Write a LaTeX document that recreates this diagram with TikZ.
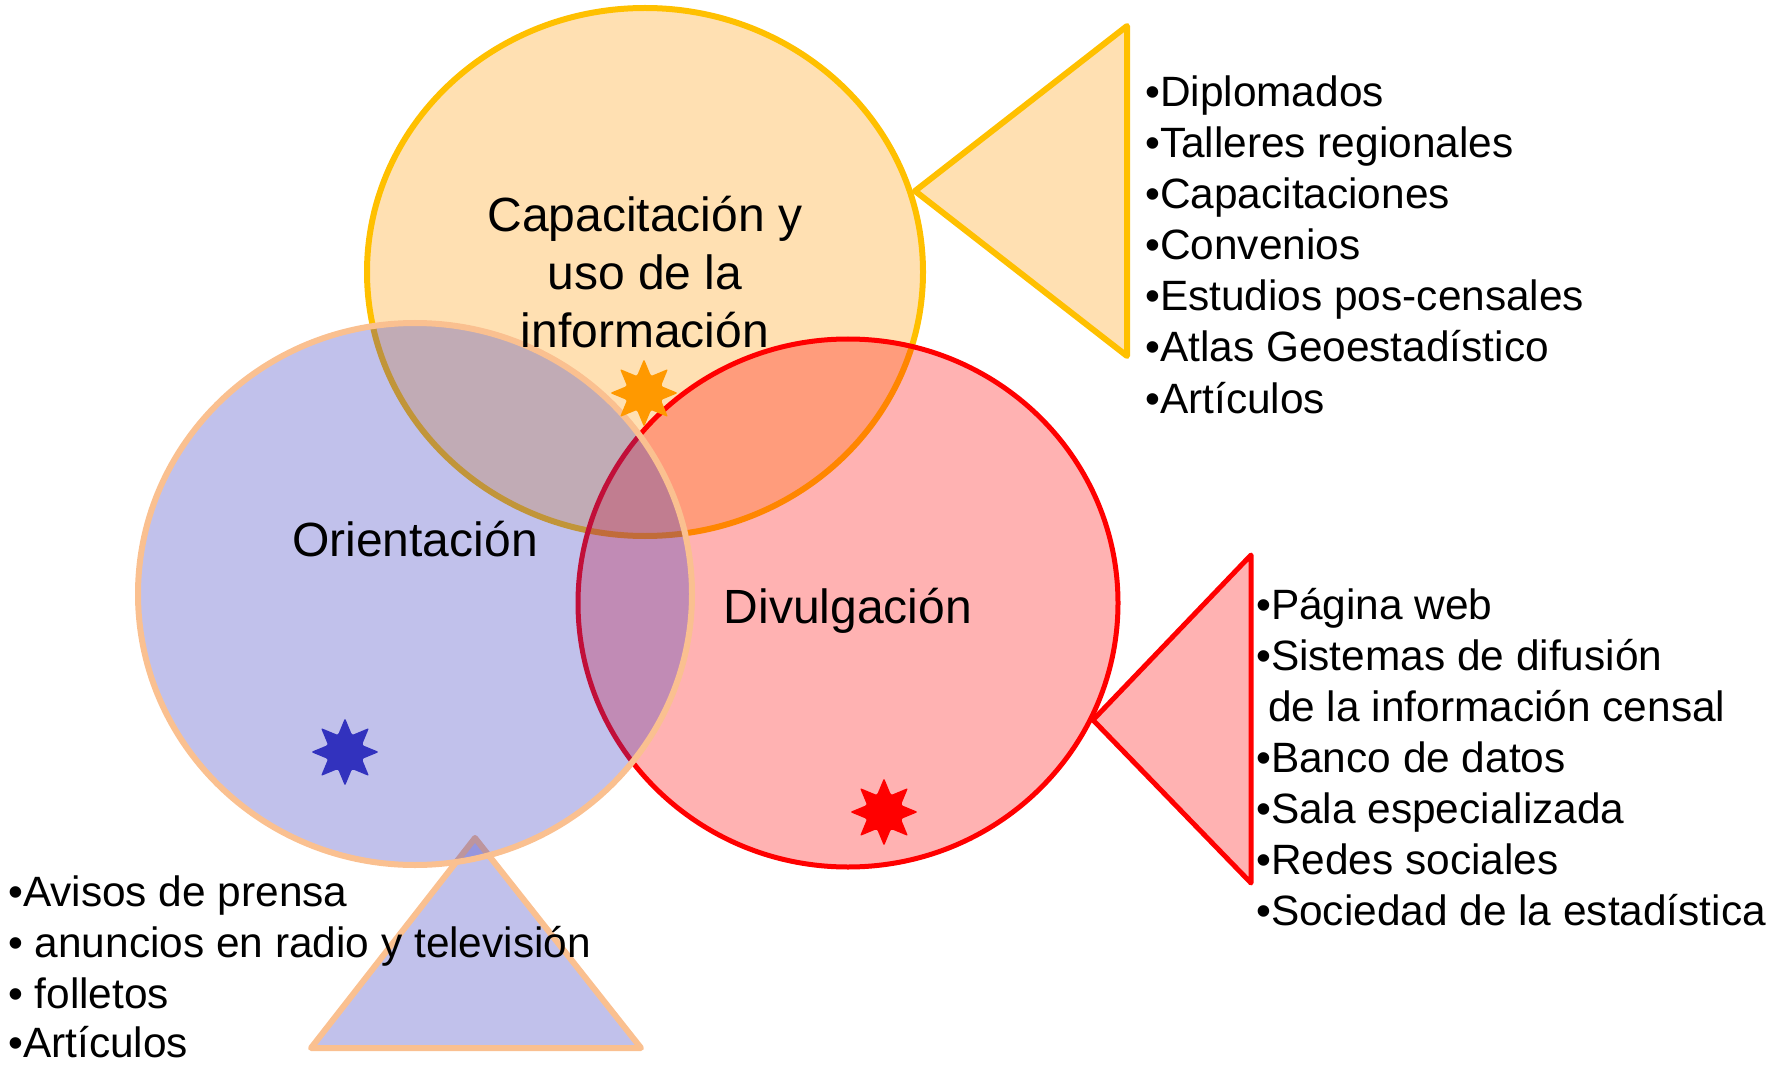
\documentclass[tikz,border=0pt]{standalone}
\usepackage{fontspec}
\setmainfont{Liberation Sans}
\usetikzlibrary{shapes.geometric}
\definecolor{ofill}{RGB}{255,153,0}
\definecolor{oline}{RGB}{255,192,0}
\definecolor{bfill}{RGB}{50,50,190}
\definecolor{bline}{RGB}{250,192,144}
\definecolor{rfill}{RGB}{255,0,0}
\definecolor{rline}{RGB}{255,0,0}
\tikzset{
  lst/.style={anchor=base west, inner sep=0pt, font=\fontsize{42.4}{51}\selectfont},
  lbl/.style={anchor=base, inner sep=0pt, font=\fontsize{48}{58}\selectfont},
  starmark/.style={star, star points=8, star point ratio=1.85, minimum size=68pt, inner sep=0pt, draw=none, rounded corners=2pt},
  shapeo/.style={fill=ofill, fill opacity=0.3, draw=oline, line width=6pt, line join=round},
  shaper/.style={fill=rfill, fill opacity=0.3, draw=rline, line width=5pt, line join=round},
  shapeb/.style={fill=bfill, fill opacity=0.3, draw=bline, line width=6pt, line join=round},
}
\begin{document}
\begin{tikzpicture}[x=1pt,y=-1pt]
\useasboundingbox (0,0) rectangle (1778,1067);
% triangles
\coordinate (ta) at (915,191);
\coordinate (tb) at (1127,26);
\coordinate (tc) at (1127,356);
\path[shapeo] (ta) -- (tb) -- (tc) -- cycle;
\coordinate (ra) at (1093,720);
\coordinate (rb) at (1251,555);
\coordinate (rc) at (1251,883);
\path[shaper] (ra) -- (rb) -- (rc) -- cycle;
\coordinate (ba) at (475,838);
\coordinate (bb) at (311,1048);
\coordinate (bc) at (641,1048);
\path[shapeb] (ba) -- (bb) -- (bc) -- cycle;
% circles
\coordinate (co) at (645,272);
\coordinate (cr) at (848,603);
\coordinate (cb) at (415,594);
\path[shapeo] (co) ellipse [x radius=278, y radius=264];
\path[shaper] (cr) ellipse [x radius=270, y radius=264];
\path[shapeb] (cb) ellipse [x radius=277, y radius=271];
% stars
\node[starmark, fill=ofill] (so) at (644,393) {};
\node[starmark, fill=bfill] (sb) at (345,752) {};
\node[starmark, fill=rfill] (sr) at (884,812) {};
% labels
\node[lbl] (l1) at (645,232) {Capacitación y};
\node[lbl] (l2) at (645,290) {uso de la};
\node[lbl] (l3) at (645,348) {información};
\node[lbl] (l4) at (415,556) {Orientación};
\node[lbl] (l5) at (848,623) {Divulgación};
% orange list
\node[lst] (o1) at (1145,107) {•Diplomados};
\node[lst] (o2) at (1145,158) {•Talleres regionales};
\node[lst] (o3) at (1145,209) {•Capacitaciones};
\node[lst] (o4) at (1145,260) {•Convenios};
\node[lst] (o5) at (1145,311) {•Estudios pos-censales};
\node[lst] (o6) at (1145,362) {•Atlas Geoestadístico};
\node[lst] (o7) at (1145,413) {•Artículos};
% red list
\node[lst] (r1) at (1256,619) {•Página web};
\node[lst] (r2) at (1256,670) {•Sistemas de difusión};
\node[lst] (r3) at (1256,721) {\hspace*{0.28em}de la información censal};
\node[lst] (r4) at (1256,772) {•Banco de datos};
\node[lst] (r5) at (1256,823) {•Sala especializada};
\node[lst] (r6) at (1256,874) {•Redes sociales};
\node[lst] (r7) at (1256,925) {•Sociedad de la estadística};
% blue list
\node[lst] (b1) at (8,906) {•Avisos de prensa};
\node[lst] (b2) at (8,957) {• anuncios en radio y televisión};
\node[lst] (b3) at (8,1008) {• folletos};
\node[lst] (b4) at (8,1057) {•Artículos};
\end{tikzpicture}
\end{document}
